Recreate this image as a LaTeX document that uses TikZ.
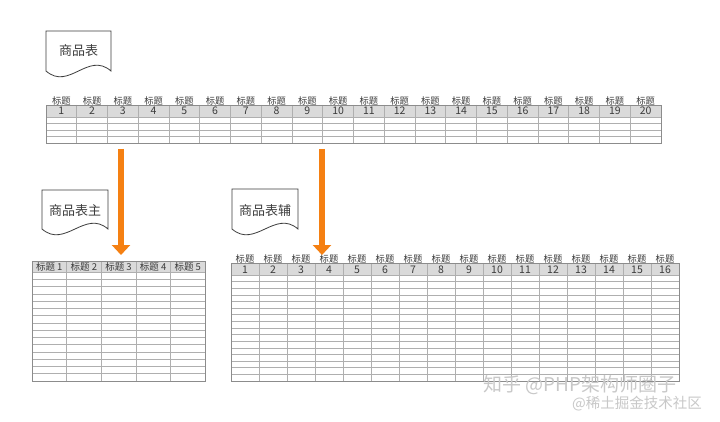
\documentclass[tikz,border=0pt]{standalone}
\usepackage{fontspec}
\newfontfamily\cjk{Noto Sans CJK SC}
\usetikzlibrary{arrows.meta}
\definecolor{arrowor}{RGB}{245,128,18}
\definecolor{gridc}{RGB}{175,175,175}
\definecolor{bordc}{RGB}{140,140,140}
\definecolor{headc}{RGB}{218,218,218}
\definecolor{txtc}{RGB}{60,60,60}
\definecolor{wmc}{RGB}{200,200,200}
\begin{document}
\begin{tikzpicture}[x=1pt,y=-1pt,
  hdr/.style={font=\cjk\fontsize{9.3}{9.3}\selectfont, text=txtc, inner sep=0pt},
  num/.style={font=\cjk\fontsize{10.5}{10.5}\selectfont, text=txtc, inner sep=0pt},
  hdrb/.style={font=\cjk\fontsize{9.5}{9.5}\selectfont, text=txtc, inner sep=0pt},
  doclabel/.style={font=\cjk\fontsize{13}{13}\selectfont, text=txtc, inner sep=0pt},
  docshape/.style={draw=txtc, line width=0.8pt, fill=white},
  gridline/.style={draw=gridc, line width=0.6pt},
  outer/.style={draw=bordc, line width=0.9pt},
  bigarrow/.style={draw=arrowor, line width=6pt, -{Triangle[width=18pt,length=10pt]}},
  wm/.style={font=\cjk\fontsize{19}{19}\selectfont, text=wmc, inner sep=0pt},
  wm2/.style={font=\cjk\fontsize{14.5}{14.5}\selectfont, text=wmc, inner sep=0pt}]
\useasboundingbox[fill=white] (0,0) rectangle (720,422);

% ---------- document shapes ----------
\draw[docshape] (46,31) -- (111,31) -- (111,71)
  .. controls (88,51) and (69,91) .. (46,71) -- cycle;
\node[doclabel] (doc1) at (78.5,51) {商品表};

\draw[docshape] (42,190) -- (108,190) -- (108,229)
  .. controls (85,209) and (65,249) .. (42,229) -- cycle;
\node[doclabel] (doc2) at (75,211) {商品表主};

\draw[docshape] (232,189) -- (298,189) -- (298,229)
  .. controls (275,209) and (255,249) .. (232,229) -- cycle;
\node[doclabel] (doc3) at (265,211) {商品表辅};

% ---------- top table ----------
\fill[headc] (46,105) rectangle (661,117);
\foreach \i in {1,...,19} \draw[gridline] ({46+\i*30.75},105) -- ({46+\i*30.75},143);
\foreach \k in {0,...,3} \draw[gridline] (46,{117+\k*6.5}) -- (661,{117+\k*6.5});
\draw[outer] (46,105) rectangle (661,143);
\foreach \i in {1,...,20} {
  \node[hdr] (ta\i) at ({46+(\i-0.5)*30.75},100.5) {标题};
  \node[num] (tn\i) at ({46+(\i-0.5)*30.75},111) {\i};
}

% ---------- bottom left table ----------
\fill[headc] (32,261) rectangle (205,272);
\foreach \i in {1,...,4} \draw[gridline] ({32+\i*34.6},261) -- ({32+\i*34.6},381);
\foreach \k in {0,...,14} \draw[gridline] (32,{272+\k*7.27}) -- (205,{272+\k*7.27});
\draw[outer] (32,261) rectangle (205,381);
\foreach \i in {1,...,5} {
  \node[hdrb] (la\i) at ({32+(\i-0.5)*34.6},266.5) {标题 \i};
}

% ---------- bottom right table ----------
\fill[headc] (231,263) rectangle (679,275);
\foreach \i in {1,...,15} \draw[gridline] ({231+\i*28},263) -- ({231+\i*28},381);
\foreach \k in {0,...,15} \draw[gridline] (231,{275+\k*6.625}) -- (679,{275+\k*6.625});
\draw[outer] (231,263) rectangle (679,381);
\foreach \i in {1,...,16} {
  \node[hdr] (ra\i) at ({231+(\i-0.5)*28},258.5) {标题};
  \node[num] (rn\i) at ({231+(\i-0.5)*28},270) {\i};
}

% ---------- arrows ----------
\coordinate (a1s) at (121,149);
\coordinate (a1e) at (121,255);
\coordinate (a2s) at (322,149);
\coordinate (a2e) at (322,255);
\draw[bigarrow] (a1s) -- (a1e);
\draw[bigarrow] (a2s) -- (a2e);

% ---------- watermark ----------
\node[wm, anchor=west] (wmA) at (483,385) {知乎 @PHP架构师圈子};
\node[wm2, anchor=west] (wmB) at (572,404) {@稀土掘金技术社区};
\end{tikzpicture}
\end{document}
